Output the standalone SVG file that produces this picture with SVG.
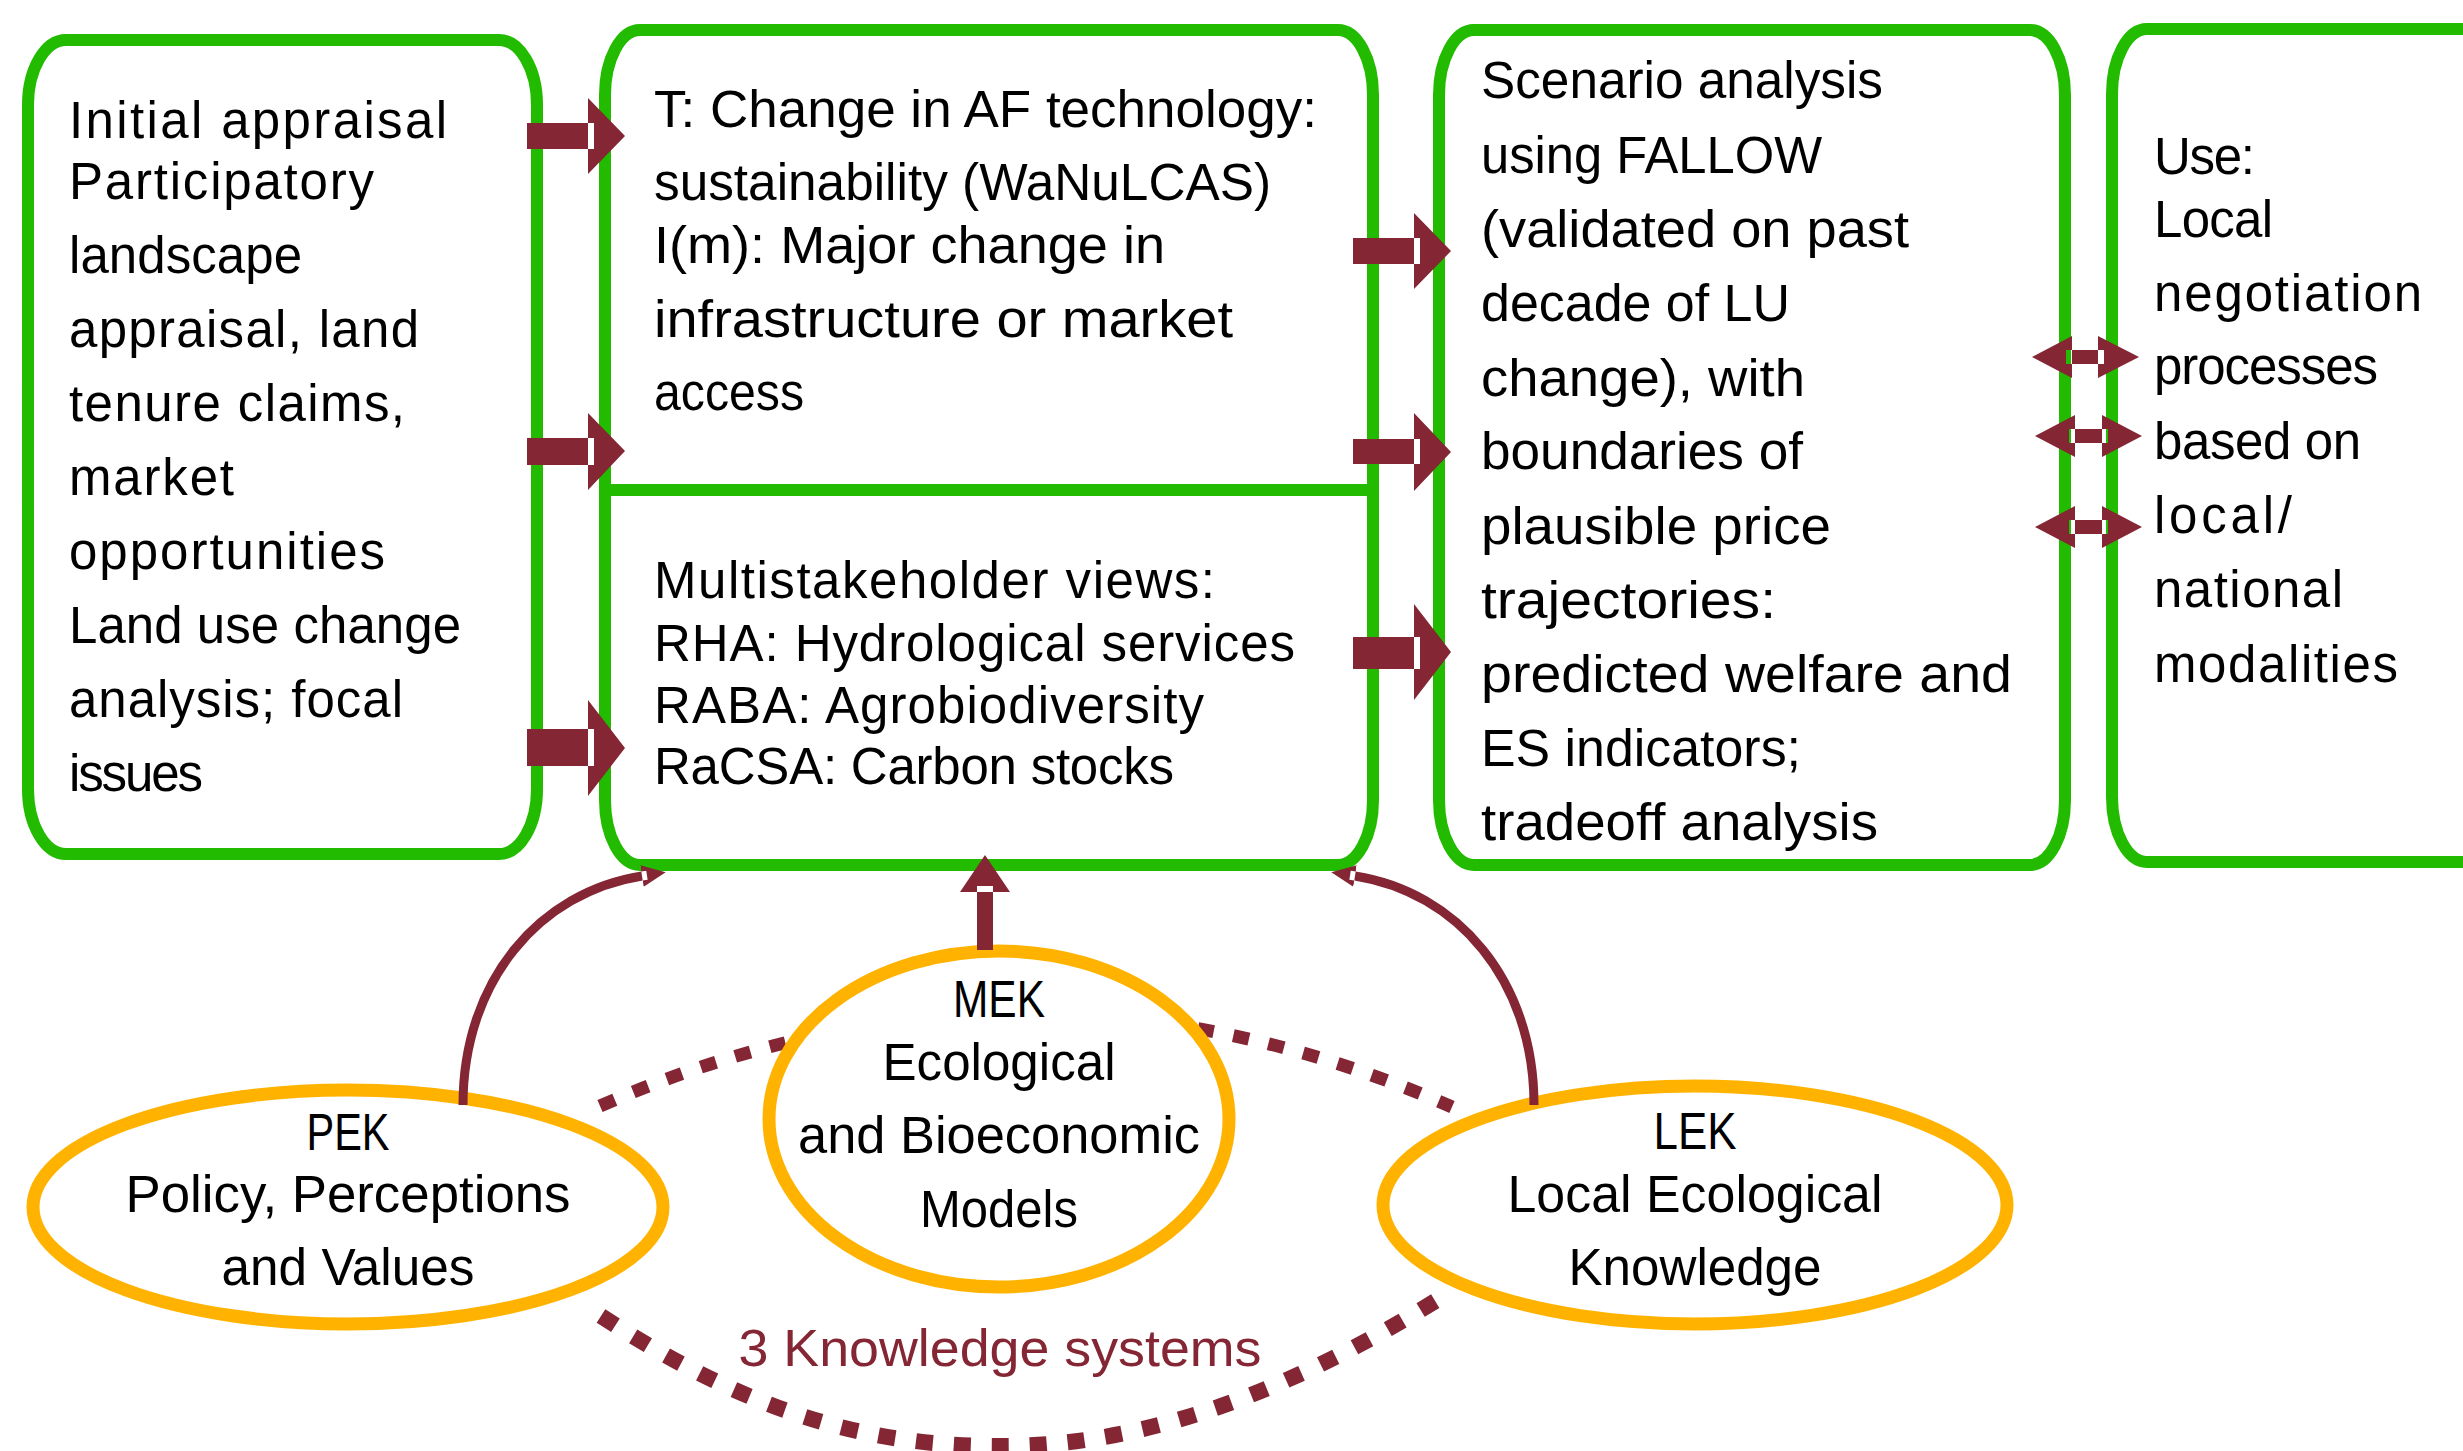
<svg xmlns="http://www.w3.org/2000/svg" width="2463" height="1451" viewBox="0 0 2463 1451">
  <style>
    .box { fill: #ffffff; stroke: #22BB00; stroke-width: 12; }
    .div { stroke: #22BB00; stroke-width: 12; }
    .oval { fill: #ffffff; stroke: #FFB300; stroke-width: 13; }
    .t { font-family: 'Liberation Sans', Arial, sans-serif; font-size: 51px; fill: #000000; }
    .mid { text-anchor: middle; }
    .ks { fill: #842634; font-size: 52px; }
    .blk { fill: #842634; fill-rule: evenodd; }
    .curve { fill: none; stroke: #842634; stroke-width: 9; }
    .ring { fill: none; stroke: #842634; }
  </style>
  <defs>
    <marker id="head" markerUnits="userSpaceOnUse" viewBox="0 -15 30 30" refX="0" refY="0" markerWidth="30" markerHeight="30" orient="auto">
      <path class="blk" d="M0,-11 L24,0 L0,11 Z M0,-4.5 H5 V4.5 H0 Z"/>
    </marker>
  </defs>
  <rect width="2463" height="1451" fill="#ffffff"/>

  <!-- boxes -->
  <g id="appraisal">
    <rect class="box" x="28" y="40" width="509" height="814" rx="38" ry="65"/>
    <g class="t">
      <text x="69" y="138" textLength="378" lengthAdjust="spacing">Initial appraisal</text>
      <text x="69" y="199" textLength="305" lengthAdjust="spacing">Participatory</text>
      <text x="69" y="273" textLength="233" lengthAdjust="spacing">landscape</text>
      <text x="69" y="347" textLength="350" lengthAdjust="spacing">appraisal, land</text>
      <text x="69" y="421" textLength="336" lengthAdjust="spacing">tenure claims,</text>
      <text x="69" y="495" textLength="165" lengthAdjust="spacing">market</text>
      <text x="69" y="569" textLength="316" lengthAdjust="spacing">opportunities</text>
      <text x="69" y="643" textLength="392" lengthAdjust="spacing">Land use change</text>
      <text x="69" y="717" textLength="334" lengthAdjust="spacing">analysis; focal</text>
      <text x="69" y="791" textLength="134" lengthAdjust="spacing">issues</text>
    </g>
  </g>

  <g id="change-views">
    <rect class="box" x="605" y="30" width="768" height="835" rx="35" ry="65"/>
    <line class="div" x1="605" y1="490" x2="1373" y2="490"/>
    <g class="t">
      <text x="654" y="127" textLength="663" lengthAdjust="spacingAndGlyphs">T: Change in AF technology:</text>
      <text x="654" y="200" textLength="617" lengthAdjust="spacingAndGlyphs">sustainability (WaNuLCAS)</text>
      <text x="654" y="263" textLength="511" lengthAdjust="spacingAndGlyphs">I(m): Major change in</text>
      <text x="654" y="337" textLength="579" lengthAdjust="spacingAndGlyphs">infrastructure or market</text>
      <text x="654" y="410" textLength="150" lengthAdjust="spacingAndGlyphs">access</text>
      <text x="654" y="598" textLength="561" lengthAdjust="spacing">Multistakeholder views:</text>
      <text x="654" y="661" textLength="641" lengthAdjust="spacing">RHA: Hydrological services</text>
      <text x="654" y="723" textLength="550" lengthAdjust="spacing">RABA: Agrobiodiversity</text>
      <text x="654" y="784" textLength="520" lengthAdjust="spacing">RaCSA: Carbon stocks</text>
    </g>
  </g>

  <g id="scenario">
    <rect class="box" x="1439" y="30" width="626" height="835" rx="35" ry="65"/>
    <g class="t">
      <text x="1481" y="98" textLength="402" lengthAdjust="spacingAndGlyphs">Scenario analysis</text>
      <text x="1481" y="173" textLength="341" lengthAdjust="spacingAndGlyphs">using FALLOW</text>
      <text x="1481" y="247" textLength="428" lengthAdjust="spacingAndGlyphs">(validated on past</text>
      <text x="1481" y="321" textLength="309" lengthAdjust="spacingAndGlyphs">decade of LU</text>
      <text x="1481" y="396" textLength="324" lengthAdjust="spacingAndGlyphs">change), with</text>
      <text x="1481" y="469" textLength="322" lengthAdjust="spacingAndGlyphs">boundaries of</text>
      <text x="1481" y="544" textLength="350" lengthAdjust="spacingAndGlyphs">plausible price</text>
      <text x="1481" y="618" textLength="295" lengthAdjust="spacingAndGlyphs">trajectories:</text>
      <text x="1481" y="692" textLength="531" lengthAdjust="spacingAndGlyphs">predicted welfare and</text>
      <text x="1481" y="766" textLength="320" lengthAdjust="spacingAndGlyphs">ES indicators;</text>
      <text x="1481" y="840" textLength="397" lengthAdjust="spacingAndGlyphs">tradeoff analysis</text>
    </g>
  </g>

  <g id="use">
    <rect class="box" x="2112" y="29" width="500" height="833" rx="35" ry="65"/>
    <g class="t">
      <text x="2154" y="174" textLength="101" lengthAdjust="spacing">Use:</text>
      <text x="2154" y="237" textLength="119" lengthAdjust="spacing">Local</text>
      <text x="2154" y="311" textLength="268" lengthAdjust="spacing">negotiation</text>
      <text x="2154" y="384" textLength="224" lengthAdjust="spacing">processes</text>
      <text x="2154" y="459" textLength="207" lengthAdjust="spacing">based on</text>
      <text x="2154" y="533" textLength="138" lengthAdjust="spacing">local/</text>
      <text x="2154" y="607" textLength="189" lengthAdjust="spacing">national</text>
      <text x="2154" y="682" textLength="244" lengthAdjust="spacing">modalities</text>
    </g>
  </g>

  <!-- dashed ring linking the three knowledge systems -->
  <g id="knowledge-ring">
    <path class="ring" stroke-width="13" stroke-dasharray="16 20" d="M600,1106 Q1026,920 1452,1107"/>
    <path class="ring" stroke-width="16" stroke-dasharray="17 21" d="M601,1316 C760,1420 880,1446 1000,1446 C1120,1446 1260,1410 1442,1297"/>
    <text class="t ks mid" x="1000" y="1366" textLength="523" lengthAdjust="spacingAndGlyphs">3 Knowledge systems</text>
  </g>

  <!-- knowledge systems -->
  <g id="pek">
    <ellipse class="oval" cx="348" cy="1207" rx="315" ry="117"/>
    <g class="t mid">
      <text x="348" y="1150" textLength="83" lengthAdjust="spacingAndGlyphs">PEK</text>
      <text x="348" y="1212" textLength="445" lengthAdjust="spacingAndGlyphs">Policy, Perceptions</text>
      <text x="348" y="1285" textLength="253" lengthAdjust="spacingAndGlyphs">and Values</text>
    </g>
  </g>

  <g id="mek">
    <ellipse class="oval" cx="999" cy="1119" rx="230" ry="168"/>
    <g class="t mid">
      <text x="999" y="1017" textLength="92" lengthAdjust="spacingAndGlyphs">MEK</text>
      <text x="999" y="1080" textLength="233" lengthAdjust="spacingAndGlyphs">Ecological</text>
      <text x="999" y="1153" textLength="402" lengthAdjust="spacingAndGlyphs">and Bioeconomic</text>
      <text x="999" y="1227" textLength="158" lengthAdjust="spacingAndGlyphs">Models</text>
    </g>
  </g>

  <g id="lek">
    <ellipse class="oval" cx="1695" cy="1205" rx="312" ry="119"/>
    <g class="t mid">
      <text x="1695" y="1149" textLength="83" lengthAdjust="spacingAndGlyphs">LEK</text>
      <text x="1695" y="1212" textLength="375" lengthAdjust="spacingAndGlyphs">Local Ecological</text>
      <text x="1695" y="1285" textLength="253" lengthAdjust="spacingAndGlyphs">Knowledge</text>
    </g>
  </g>

  <!-- connectors -->
  <g id="connectors">
    <!-- appraisal to change/views -->
    <path class="blk" d="M527,123 H588 V149 H527 Z M588,98 L625,136 L588,174 Z M588,123 H594 V149 H588 Z"/>
    <path class="blk" d="M527,438 H588 V465 H527 Z M588,413 L625,451 L588,490 Z M588,438 H594 V465 H588 Z"/>
    <path class="blk" d="M527,729 H588 V766 H527 Z M588,700 L625,748 L588,796 Z M588,729 H594 V766 H588 Z"/>
    <!-- change/views to scenario -->
    <path class="blk" d="M1353,238 H1414 V264 H1353 Z M1414,213 L1451,251 L1414,289 Z M1414,238 H1420 V264 H1414 Z"/>
    <path class="blk" d="M1353,439 H1414 V464 H1353 Z M1414,413 L1451,452 L1414,491 Z M1414,439 H1420 V464 H1414 Z"/>
    <path class="blk" d="M1353,637 H1414 V669 H1353 Z M1414,604 L1451,652 L1414,700 Z M1414,637 H1420 V669 H1414 Z"/>
    <!-- scenario to use, both ways -->
    <path class="blk" d="M2072,336 L2032,357 L2072,378 Z M2066,350 H2072 V364 H2066 Z M2072,350 H2098 V364 H2072 Z M2098,336 L2139,357 L2098,378 Z M2098,350 H2104 V364 H2098 Z"/>
    <path class="blk" d="M2075,415 L2035,436 L2075,457 Z M2069,429 H2075 V443 H2069 Z M2075,429 H2102 V443 H2075 Z M2102,415 L2142,436 L2102,457 Z M2102,429 H2108 V443 H2102 Z"/>
    <path class="blk" d="M2075,506 L2035,527 L2075,548 Z M2069,520 H2075 V534 H2069 Z M2075,520 H2102 V534 H2075 Z M2102,506 L2142,527 L2102,548 Z M2102,520 H2108 V534 H2102 Z"/>
    <!-- MEK up into views -->
    <path class="blk" d="M977,892 H993 V950 H977 Z M960,892 L985,855 L1010,892 Z M977,886 H993 V892 H977 Z"/>
    <!-- PEK and LEK curved links -->
    <path class="curve" d="M463,1105 C463,980 540,892 642,876" marker-end="url(#head)"/>
    <path class="curve" d="M1534,1105 C1534,980 1457,892 1355,876" marker-end="url(#head)"/>
  </g>
</svg>
